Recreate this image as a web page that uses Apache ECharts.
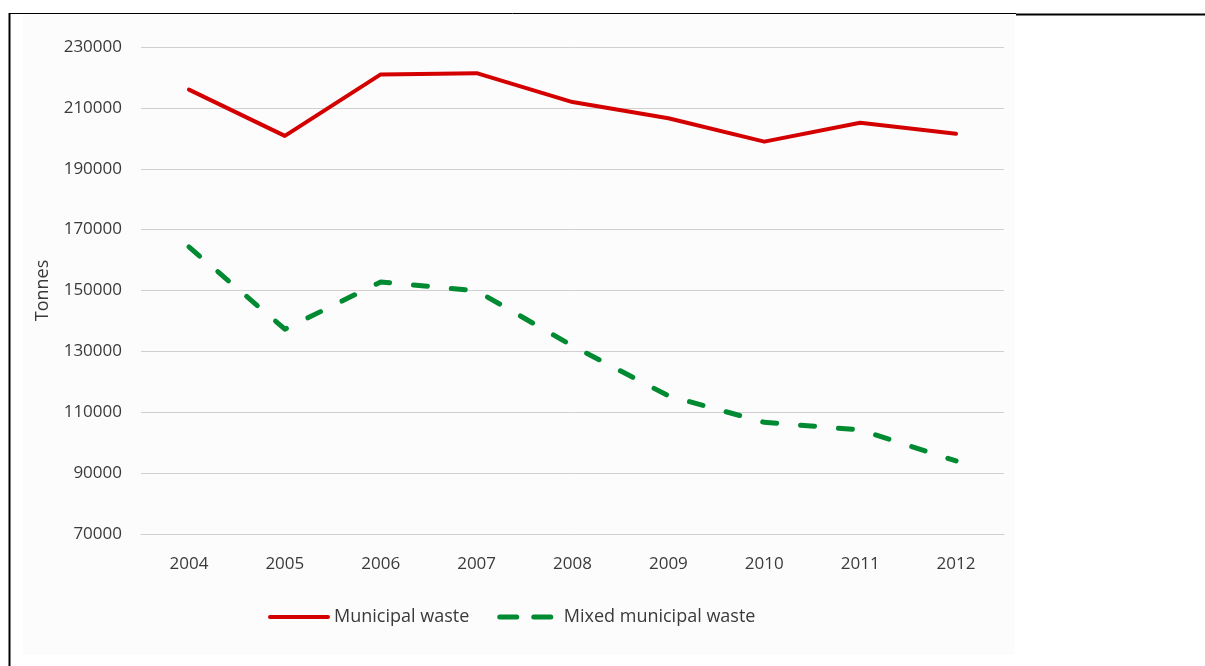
<!DOCTYPE html>
<html>
<head>
<meta charset="utf-8">
<script src="https://cdn.jsdelivr.net/npm/echarts@6/dist/echarts.min.js"></script>
<style>
  html, body { margin: 0; padding: 0; background: #ffffff; }
  #chart { width: 1205px; height: 666px; }
</style>
</head>
<body>
<div id="chart"></div>
<script>
// Annual waste quantities, tonnes
const years = ['2004', '2005', '2006', '2007', '2008', '2009', '2010', '2011', '2012'];
const municipalWaste = [216000, 200800, 221000, 221400, 211900, 206600, 198900, 205100, 201500];
const mixedMunicipalWaste = [164300, 137300, 152800, 149900, 131800, 115400, 106700, 104200, 94000];
const seriesNames = ['Municipal waste', 'Mixed municipal waste'];
const axisTitle = 'Tonnes';

const FONT = '"Open Sans", "Noto Sans", sans-serif';
const TEXT = '#3a3a3a';
const RED = '#d40000';
const GREEN = '#008a32';
const DASH = [14, 24];

const chart = echarts.init(document.getElementById('chart'), null, { renderer: 'canvas' });

chart.setOption({
  backgroundColor: '#ffffff',
  animation: false,
  graphic: [
    // light panel behind the chart
    { type: 'rect', z: -10, shape: { x: 23, y: 15, width: 992, height: 640 }, style: { fill: '#fcfcfc' } },
    // frame lines
    { type: 'line', shape: { x1: 9.5, y1: 13, x2: 9.5, y2: 666 }, style: { stroke: '#000', lineWidth: 2 } },
    { type: 'line', shape: { x1: 9, y1: 13.5, x2: 1016, y2: 13.5 }, style: { stroke: '#000', lineWidth: 1 } },
    { type: 'line', shape: { x1: 1016, y1: 14.5, x2: 1205, y2: 14.5 }, style: { stroke: '#000', lineWidth: 2 } }
  ],
  grid: { left: 141, right: 201, top: 47, bottom: 132, containLabel: false },
  legend: {
    data: [
      { name: seriesNames[0], lineStyle: { width: 4, cap: 'round' } },
      { name: seriesNames[1], lineStyle: { width: 5, type: [17, 17], cap: 'round' } }
    ],
    left: 268,
    top: 608,
    padding: 0,
    itemWidth: 58,
    itemHeight: 16,
    itemGap: 28,
    itemStyle: { opacity: 0 },
    textStyle: { fontFamily: FONT, fontSize: 18, color: TEXT, padding: [0, 0, 0, 1] }
  },
  xAxis: {
    type: 'category',
    data: years,
    boundaryGap: true,
    axisTick: { show: false },
    axisLine: { lineStyle: { color: '#d0d0d0', width: 1 } },
    axisLabel: { fontFamily: FONT, fontSize: 17, color: TEXT, margin: 22 }
  },
  yAxis: {
    type: 'value',
    min: 70000,
    max: 230000,
    interval: 20000,
    name: axisTitle,
    nameLocation: 'middle',
    nameRotate: 90,
    nameGap: 89,
    nameTextStyle: { fontFamily: FONT, fontSize: 18, color: TEXT },
    axisLine: { show: false },
    axisTick: { show: false },
    axisLabel: {
      fontFamily: FONT, fontSize: 17, color: TEXT, margin: 19,
      formatter: (v) => String(v)
    },
    splitLine: { lineStyle: { color: '#d0d0d0', width: 1 } }
  },
  series: [
    {
      name: seriesNames[0],
      type: 'line',
      data: municipalWaste,
      symbol: 'none',
      color: RED,
      lineStyle: { color: RED, width: 4, cap: 'round', join: 'round' }
    },
    {
      name: seriesNames[1],
      type: 'line',
      data: mixedMunicipalWaste,
      symbol: 'none',
      color: GREEN,
      lineStyle: { color: GREEN, width: 5, type: DASH, cap: 'round', join: 'round' }
    }
  ]
});
</script>
</body>
</html>
